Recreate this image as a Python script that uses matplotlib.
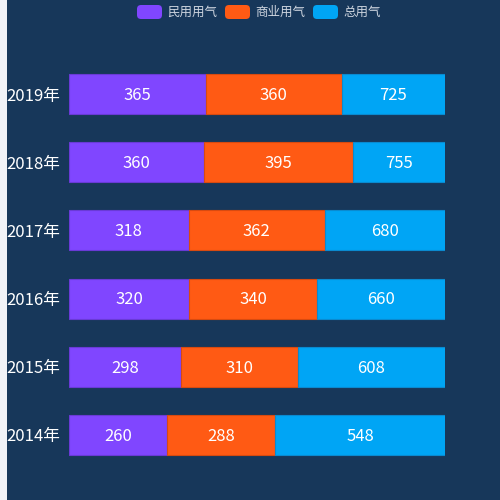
import numpy as np
import matplotlib
matplotlib.use('Agg')
import matplotlib.pyplot as plt
from matplotlib.patches import Rectangle, FancyBboxPatch

plt.rcParams['font.family'] = ['Noto Sans CJK SC', 'DejaVu Sans']

# 数据
years = ['2014年', '2015年', '2016年', '2017年', '2018年', '2019年']
residential = [260, 298, 320, 318, 360, 365]
commercial = [288, 310, 340, 362, 395, 360]
total = [548, 608, 660, 680, 755, 725]
series_names = ['民用用气', '商业用气', '总用气']
colors = ['#8046ff', '#ff5a14', '#00a5f5']
edge_colors = ['#6a3ad6', '#d84a10', '#0a8ad0']

X_MAX = 1000
BG = '#17375a'

fig = plt.figure(figsize=(5, 5), dpi=100)
fig.patch.set_facecolor(BG)
# 左侧浅色条
fig.patches.append(Rectangle((0, 0), 7 / 500, 1, transform=fig.transFigure,
                             facecolor='#f0f2f7', edgecolor='none', zorder=0))

ax = fig.add_axes([0.138, 0.062, 0.752, 0.818])
ax.set_facecolor(BG)

y = np.arange(len(years))
left = np.zeros(len(years))
for vals, c, ec in zip([residential, commercial, total], colors, edge_colors):
    vals = np.array(vals, dtype=float)
    ax.barh(y, vals, left=left, height=0.585, color=c, edgecolor=ec,
            linewidth=0.8, zorder=2)
    # 标签放在可见部分的中心
    right = np.minimum(left + vals, X_MAX)
    for yi, l, r, v in zip(y, left, right, vals):
        ax.text((l + r) / 2, yi - 0.02, f'{int(v)}', ha='center', va='center',
                color='white', fontsize=12, zorder=3)
    left = left + vals

ax.set_xlim(0, X_MAX)
ax.set_ylim(-0.5, len(years) - 0.5)
ax.set_xticks([])
ax.set_yticks(y)
ax.set_yticklabels(years, color='white', fontsize=12)
ax.tick_params(axis='y', length=0, pad=6)
for s in ax.spines.values():
    s.set_visible(False)

# 图例
lx = [137, 225, 313]
for x0, name, c in zip(lx, series_names, colors):
    fig.patches.append(FancyBboxPatch((x0 / 500, 1 - 19 / 500), 25 / 500, 14 / 500,
                                      boxstyle='round,pad=0,rounding_size=0.008',
                                      transform=fig.transFigure,
                                      facecolor=c, edgecolor='none'))
    fig.text((x0 + 30) / 500, 1 - 12 / 500, name, color='#cfd6e0',
             fontsize=9, ha='left', va='center')

fig.savefig('out.png', dpi=100, facecolor=BG)
